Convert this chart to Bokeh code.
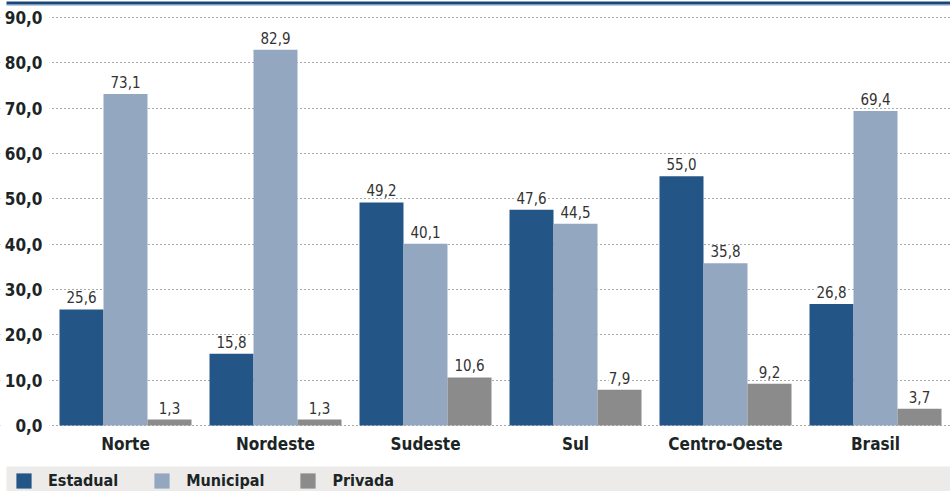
from bokeh.plotting import figure
from bokeh.models import (ColumnDataSource, Range1d, FixedTicker, LabelSet,
                          Legend, LegendItem, BoxAnnotation)
from bokeh.core.properties import value
from bokeh.transform import dodge
from bokeh.embed import file_html
from bokeh.resources import INLINE

# ---- data ----
regions = ["Norte", "Nordeste", "Sudeste", "Sul", "Centro-Oeste", "Brasil"]
estadual = [25.6, 15.8, 49.2, 47.6, 55.0, 26.8]
municipal = [73.1, 82.9, 40.1, 44.5, 35.8, 69.4]
privada = [1.3, 1.3, 10.6, 7.9, 9.2, 3.7]
series_names = ["Estadual", "Municipal", "Privada"]
y_ticks = [0, 10, 20, 30, 40, 50, 60, 70, 80, 90]
y_tick_labels = ["0,0", "10,0", "20,0", "30,0", "40,0", "50,0", "60,0", "70,0", "80,0", "90,0"]

FONT = "DejaVu Sans Condensed"
TXT = "#1c2526"
bar_colors = ["#245587", "#94a7c1", "#8a8b8a"]


def fmt(v):
    return f"{v:.1f}".replace(".", ",")


xpos = [i + 0.5 for i in range(len(regions))]
src = ColumnDataSource(dict(
    x=xpos, region=regions,
    estadual=estadual, municipal=municipal, privada=privada,
    estadual_lbl=[fmt(v) for v in estadual],
    municipal_lbl=[fmt(v) for v in municipal],
    privada_lbl=[fmt(v) for v in privada],
))

# frame covers the whole canvas; 150 px per group, 408/90 px per unit
p = figure(width=950, height=491,
           x_range=Range1d(-50 / 150, 6.0),
           y_range=Range1d(-66 / (408 / 90), 90 + 17 / (408 / 90)),
           toolbar_location=None, output_backend="svg",
           min_border_left=0, min_border_right=0, min_border_top=0, min_border_bottom=0,
           outline_line_color=None, border_fill_color="white")

# white mask so grid lines start right of the y labels
p.add_layout(BoxAnnotation(left=0, right=49, top=5, bottom=430,
                           left_units="canvas", right_units="canvas",
                           top_units="canvas", bottom_units="canvas",
                           fill_color="white", fill_alpha=1, line_color=None,
                           level="underlay"))
# top rule
p.add_layout(BoxAnnotation(left=6, right=950, top=1, bottom=4,
                           left_units="canvas", right_units="canvas",
                           top_units="canvas", bottom_units="canvas",
                           fill_color="#17467a", fill_alpha=1, line_color=None))
p.add_layout(BoxAnnotation(left=6, right=950, top=4, bottom=5,
                           left_units="canvas", right_units="canvas",
                           top_units="canvas", bottom_units="canvas",
                           fill_color="#6f93bb", fill_alpha=1, line_color=None))
# legend band
p.add_layout(BoxAnnotation(left=6, right=950, top=466, bottom=491,
                           left_units="canvas", right_units="canvas",
                           top_units="canvas", bottom_units="canvas",
                           fill_color="#ecebe9", fill_alpha=1, line_color=None,
                           level="underlay"))

bw = 0.2933
cols = ["estadual", "municipal", "privada"]
offsets = [-bw, 0.0, bw]
renderers = []
for c, off, col in zip(cols, offsets, bar_colors):
    r = p.vbar(x=dodge("x", off), top=c, width=bw, source=src,
               fill_color=col, line_color=None)
    renderers.append(r)
    p.add_layout(LabelSet(x=dodge("x", off), y=c, text=c + "_lbl",
                          source=src, text_align="center", text_baseline="bottom",
                          y_offset=6, text_font=value(FONT), text_font_size="15px",
                          text_color="#333333", background_fill_color="white"))

p.xgrid.visible = False
p.ygrid.ticker = FixedTicker(ticks=y_ticks)
p.ygrid.grid_line_color = "#555555"
p.ygrid.grid_line_dash = "1 3"
p.ygrid.grid_line_width = 1

p.yaxis.ticker = FixedTicker(ticks=y_ticks)
p.yaxis.major_label_overrides = {t: l for t, l in zip(y_ticks, y_tick_labels)}
p.yaxis.fixed_location = 0
p.xaxis.ticker = FixedTicker(ticks=xpos)
p.xaxis.major_label_overrides = {x: r for x, r in zip(xpos, regions)}
p.xaxis.fixed_location = 0
for ax in (p.xaxis, p.yaxis):
    ax.axis_line_color = None
    ax.major_tick_line_color = None
    ax.minor_tick_line_color = None
    ax.major_tick_out = 0
    ax.major_tick_in = 0
    ax.major_label_text_font = FONT
    ax.major_label_text_font_style = "bold"
    ax.major_label_text_color = TXT
p.yaxis.major_label_text_font_size = "17px"
p.yaxis.major_label_standoff = 8
p.xaxis.major_label_text_font_size = "17px"
p.xaxis.major_label_standoff = 8

items = [LegendItem(label=n, renderers=[r]) for n, r in zip(series_names, renderers)]
legend = Legend(items=items, orientation="horizontal", location=(14, 1),
                glyph_width=19, glyph_height=19, label_standoff=15, spacing=34,
                padding=0, margin=0, border_line_color=None, background_fill_alpha=0,
                label_text_font=FONT, label_text_font_style="bold",
                label_text_font_size="16px", label_text_color=TXT, label_height=19)
p.add_layout(legend)

open("out.html", "w").write(file_html(p, INLINE))
